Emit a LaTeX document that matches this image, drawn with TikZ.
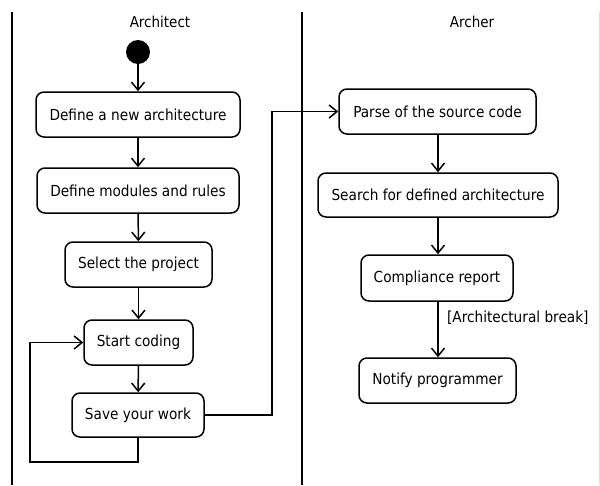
\documentclass[tikz,border=0pt]{standalone}
\usepackage{fontspec}
\setmainfont{DejaVu Sans Condensed}
\usetikzlibrary{arrows.meta}
\begin{document}
\begin{tikzpicture}[x=1pt,y=-1pt,
  act/.style={draw, line width=1.5pt, rounded corners=8pt, inner sep=0pt,
    font=\fontsize{15.2}{17}\selectfont, align=center},
  flow/.style={line width=1.5pt, -{Straight Barb[length=8pt,width=13pt,line width=1.5pt]}},
  lane/.style={line width=1.4pt},
  lanetitle/.style={font=\fontsize{15}{17}\selectfont}]
\useasboundingbox (0,0) rectangle (600,485);

% swimlane separators
\draw[lane] (12,12) -- (12,485);
\draw[lane] (302,12) -- (302,485);
\draw[line width=0.6pt, black!12] (599,12) -- (599,485);

\node[lanetitle] (tArch) at (160,22) {Architect};
\node[lanetitle] (tArcher) at (472,22) {Archer};

% Architect lane
\node[circle, fill=black, minimum size=24pt, inner sep=0pt] (init) at (138,52) {};
\node[act, minimum width=204pt, minimum height=45pt] (define) at (138,114.5) {Define a new architecture};
\node[act, minimum width=202pt, minimum height=45pt] (modules) at (138,190.5) {Define modules and rules};
\node[act, minimum width=147pt, minimum height=45pt] (select) at (138.5,264.5) {Select the project};
\node[act, minimum width=109pt, minimum height=45pt] (start) at (138.5,342.5) {Start coding};
\node[act, minimum width=132pt, minimum height=44pt] (save) at (138,415) {Save your work};

% Archer lane
\node[act, minimum width=197pt, minimum height=45pt] (parse) at (437.5,111.5) {Parse of the source code};
\node[act, minimum width=240pt, minimum height=44pt] (search) at (438,195) {Search for defined architecture};
\node[act, minimum width=152pt, minimum height=46pt] (report) at (437,278) {Compliance report};
\node[act, minimum width=157pt, minimum height=45pt] (notify) at (437.5,380.5) {Notify programmer};

\coordinate (loopA) at (30,462);
\coordinate (jump) at (272,111.5);

\draw[flow] (init) -- (define);
\draw[flow] (define) -- (modules);
\draw[flow] (modules) -- (select);
\draw[flow] (select) -- (start);
\draw[flow] (start) -- (save);
\draw[flow] (save.south) |- (loopA) |- (start.west);
\draw[flow] (save.east) -| (jump) -- (parse.west);
\draw[flow] (parse.south -| 438,0) -- (search.north -| 438,0);
\draw[flow] (search.south -| 438,0) -- (report.north -| 438,0);
\draw[flow] (report.south -| 438,0) -- node[right=5pt, pos=0.28, font=\fontsize{15.2}{17}\selectfont] (guard) {[Architectural break]} (notify.north -| 438,0);
\end{tikzpicture}
\end{document}
